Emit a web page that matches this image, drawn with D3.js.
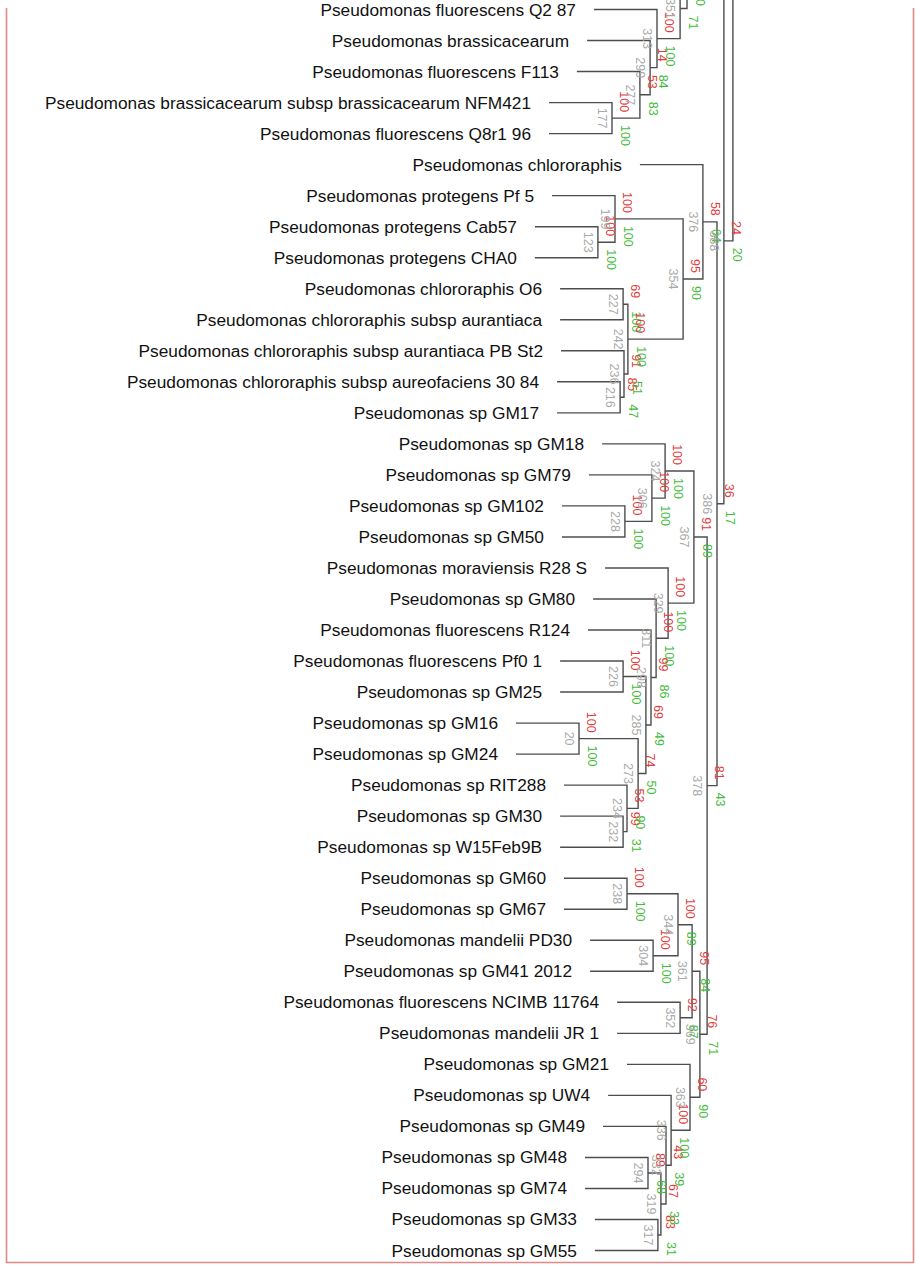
<!DOCTYPE html>
<html>
<head>
<meta charset="utf-8">
<script src="https://cdn.jsdelivr.net/npm/d3@7"></script>
<style>
  html, body { margin: 0; padding: 0; background: #fff; }
  svg { display: block; }
</style>
</head>
<body>
<svg id="chart" width="916" height="1269"></svg>
<script>
// Leaf labels, top to bottom
const leafNames = [
  "Pseudomonas fluorescens Q2 87",
  "Pseudomonas brassicacearum",
  "Pseudomonas fluorescens F113",
  "Pseudomonas brassicacearum subsp brassicacearum NFM421",
  "Pseudomonas fluorescens Q8r1 96",
  "Pseudomonas chlororaphis",
  "Pseudomonas protegens Pf 5",
  "Pseudomonas protegens Cab57",
  "Pseudomonas protegens CHA0",
  "Pseudomonas chlororaphis O6",
  "Pseudomonas chlororaphis subsp aurantiaca",
  "Pseudomonas chlororaphis subsp aurantiaca PB St2",
  "Pseudomonas chlororaphis subsp aureofaciens 30 84",
  "Pseudomonas sp GM17",
  "Pseudomonas sp GM18",
  "Pseudomonas sp GM79",
  "Pseudomonas sp GM102",
  "Pseudomonas sp GM50",
  "Pseudomonas moraviensis R28 S",
  "Pseudomonas sp GM80",
  "Pseudomonas fluorescens R124",
  "Pseudomonas fluorescens Pf0 1",
  "Pseudomonas sp GM25",
  "Pseudomonas sp GM16",
  "Pseudomonas sp GM24",
  "Pseudomonas sp RIT288",
  "Pseudomonas sp GM30",
  "Pseudomonas sp W15Feb9B",
  "Pseudomonas sp GM60",
  "Pseudomonas sp GM67",
  "Pseudomonas mandelii PD30",
  "Pseudomonas sp GM41 2012",
  "Pseudomonas fluorescens NCIMB 11764",
  "Pseudomonas mandelii JR 1",
  "Pseudomonas sp GM21",
  "Pseudomonas sp UW4",
  "Pseudomonas sp GM49",
  "Pseudomonas sp GM48",
  "Pseudomonas sp GM74",
  "Pseudomonas sp GM33",
  "Pseudomonas sp GM55"
];

// Rows of the rest of the tree, which continues above the first row
const upperRows = [-20, -2, -1];

// Merges: cluster number, two members, height, AU and BP p-values (%)
// ("h…" marks merges whose number lies above the drawn area)
const nodeIds     = ["177","277","299","313","351","h1",
                     "123","199","227","216","236","242","354","376",
                     "228","306","324","226","20","232","234","273","285","298","311","329","367",
                     "238","304","344","352","361","294","317","319","332","336","363","369",
                     "378","386","388","h2"];
const nodeLeft    = ["L3","L2","L1","L0","U-1","U-2",
                     "L7","L6","L9","L12","L11","227","199","L5",
                     "L16","L15","L14","L21","L23","L26","L25","20","226","L20","L19","L18","324",
                     "L28","L30","238","L32","344","L37","L39","294","L36","L35","L34","361",
                     "367","376","h1","U-20"];
const nodeRight   = ["L4","177","277","299","313","351",
                     "L8","123","L10","L13","216","236","242","354",
                     "L17","228","306","L22","L24","L27","232","234","273","285","298","311","329",
                     "L29","L31","304","L33","352","L38","L40","317","319","332","336","363",
                     "369","378","386","388"];
const nodeHeight  = [0.440,0.533,0.567,0.590,0.667,0.690,
                     0.393,0.450,0.477,0.467,0.480,0.493,0.677,0.743,
                     0.483,0.573,0.617,0.477,0.330,0.477,0.490,0.527,0.553,0.570,0.587,0.627,0.713,
                     0.490,0.577,0.660,0.667,0.707,0.560,0.593,0.603,0.620,0.637,0.700,0.733,
                     0.757,0.790,0.813,0.843];
const nodeAU      = ["100","53","14","100","","",
                     "100","100","69","85","91","100","95","58",
                     "100","100","100","100","100","99","53","74","69","99","100","100","91",
                     "100","100","100","92","95","89","83","67","43","100","60","76",
                     "81","36","24",""];
const nodeBP      = ["100","83","84","100","71","100",
                     "100","100","100","47","51","100","90","64",
                     "100","100","100","100","100","31","90","50","49","86","100","100","89",
                     "100","100","89","87","84","68","31","33","39","100","90","71",
                     "43","17","20",""];

const HANG = 0.21;           // leaf hang below the merge height
const svg = d3.select("#chart");

const yRow = d3.scaleLinear().domain([0, 40]).range([9.5, 1250.5]);
const xH = d3.scaleLinear().domain([0, 1]).range([480, 780]);

// Frame
svg.append("path")
  .attr("d", "M6.5,8 V1262.5 H913.5 V8")
  .attr("fill", "none")
  .attr("stroke", "#e28888")
  .attr("stroke-width", 1.6);

// Resolve positions
const pos = new Map();
leafNames.forEach((n, i) => pos.set("L" + i, { y: yRow(i), leaf: true, name: n }));
upperRows.forEach(r => pos.set("U" + r, { y: yRow(r), leaf: true, name: "" }));

const nodes = nodeIds.map((id, i) => ({
  id, left: nodeLeft[i], right: nodeRight[i], h: nodeHeight[i], au: nodeAU[i], bp: nodeBP[i]
}));
nodes.forEach(n => {
  const a = pos.get(n.left), b = pos.get(n.right);
  n.y = (a.y + b.y) / 2;
  n.x = xH(n.h);
  pos.set(n.id, { y: n.y, h: n.h, leaf: false });
  [a, b].forEach(c => { if (c.leaf) c.x = xH(n.h - HANG); else c.x = xH(c.h); });
});

const g = svg.append("g");
const lineColor = "#4d4d4d";

nodes.forEach(n => {
  const a = pos.get(n.left), b = pos.get(n.right);
  g.append("path")
    .attr("d", `M${a.x},${a.y} H${n.x} V${b.y} H${b.x}`)
    .attr("fill", "none")
    .attr("stroke", lineColor)
    .attr("stroke-width", 1.4);
});

// Leaf labels
leafNames.forEach((name, i) => {
  const p = pos.get("L" + i);
  svg.append("text")
    .attr("x", p.x - 18)
    .attr("y", p.y)
    .attr("text-anchor", "end")
    .attr("dominant-baseline", "central")
    .attr("font-family", "'Liberation Sans', Arial, Helvetica, sans-serif")
    .attr("font-size", 17.3)
    .attr("fill", "#111")
    .text(name);
});

// Node annotations, rotated to read downwards
const numFont = "'Liberation Sans', Arial, Helvetica, sans-serif";
function vtext(x, y, str, color, anchor) {
  svg.append("text")
    .attr("transform", `translate(${x},${y}) rotate(90)`)
    .attr("text-anchor", anchor)
    .attr("dominant-baseline", "central")
    .attr("font-family", numFont)
    .attr("font-size", 12.5)
    .attr("fill", color)
    .text(str);
}
nodes.forEach(n => {
  if (!n.id.startsWith("h")) vtext(n.x - 10, n.y, n.id, "#a9a9a9", "middle");
  if (n.au) vtext(n.x + 12, n.y - 6, n.au, "#e23b3b", "end");
  if (n.bp) vtext(n.x + 13, n.y + 7, n.bp, "#44bb3c", "start");
});
</script>
</body>
</html>
